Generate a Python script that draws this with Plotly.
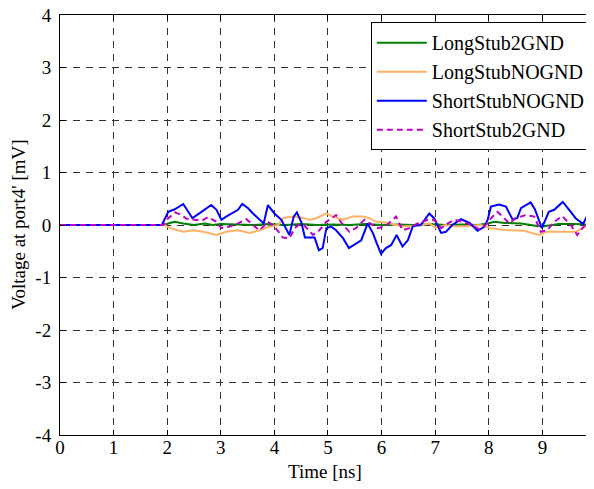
import plotly.graph_objects as go

# ---- data ----
t_long2gnd = [0, 1.95, 2.02, 2.14, 2.3, 2.5, 2.7, 2.85, 3.0, 3.3, 3.6, 3.9, 4.2, 4.5, 4.8, 5.1, 5.4, 5.7, 6.0, 6.3, 6.6, 6.9, 7.2, 7.5, 7.8, 7.98, 8.1, 8.3, 8.6, 8.9, 9.0, 9.3, 9.6, 9.96]
v_long2gnd = [0, 0, 0.03, 0.06, 0.03, 0.0, 0.03, 0.0, 0.02, 0.01, 0.0, 0.02, 0.0, 0.02, 0.0, 0.01, 0.0, 0.02, 0.0, 0.01, 0.0, 0.02, 0.0, 0.01, 0.0, 0.03, 0.06, 0.04, 0.03, -0.02, -0.03, 0.02, 0.02, 0.0]

t_longno = [0, 1.95, 2.05, 2.3, 2.48, 2.67, 2.92, 3.1, 3.32, 3.54, 3.72, 3.91, 4.07, 4.16, 4.34, 4.5, 4.66, 4.78, 4.97, 5.09, 5.28, 5.46, 5.65, 5.77, 5.9, 6.08, 6.27, 6.39, 6.58, 6.76, 6.89, 7.01, 7.2, 7.4, 7.6, 7.85, 8.04, 8.35, 8.66, 8.94, 9.09, 9.37, 9.62, 9.81, 9.96]
v_longno = [0, 0, -0.06, -0.13, -0.1, -0.13, -0.19, -0.13, -0.1, -0.15, -0.1, -0.03, 0, 0.13, 0.16, 0.14, 0.1, 0.13, 0.22, 0.16, 0.1, 0.16, 0.16, 0.13, 0.06, 0.05, 0, -0.03, -0.02, 0, 0.03, -0.05, 0.0, -0.03, -0.02, 0.0, -0.06, -0.1, -0.11, -0.19, -0.13, -0.13, -0.13, -0.03, -0.03]

t_shortno = [0, 1.9, 2.02, 2.14, 2.3, 2.37, 2.47, 2.64, 2.82, 2.92, 3.01, 3.1, 3.2, 3.32, 3.4, 3.51, 3.6, 3.69, 3.8, 3.88, 4.0, 4.13, 4.28, 4.36, 4.42, 4.5, 4.57, 4.66, 4.75, 4.83, 4.9, 4.97, 5.06, 5.15, 5.28, 5.39, 5.49, 5.62, 5.74, 5.84, 5.91, 5.99, 6.08, 6.18, 6.28, 6.39, 6.49, 6.58, 6.64, 6.73, 6.89, 6.98, 7.11, 7.2, 7.32, 7.48, 7.64, 7.79, 7.91, 7.98, 8.04, 8.19, 8.32, 8.44, 8.53, 8.6, 8.78, 8.86, 8.99, 9.12, 9.22, 9.38, 9.5, 9.62, 9.76, 9.84, 9.9, 9.96]
v_shortno = [0, 0, 0.25, 0.3, 0.4, 0.29, 0.13, 0.25, 0.38, 0.29, 0.1, 0.16, 0.22, 0.29, 0.4, 0.32, 0.22, 0.13, 0.03, 0.38, 0.22, 0.1, -0.19, 0.16, 0.24, 0.06, -0.24, -0.24, -0.24, -0.48, -0.44, -0.06, -0.03, -0.1, -0.25, -0.44, -0.38, -0.29, 0.03, -0.16, -0.35, -0.55, -0.44, -0.38, -0.19, -0.41, -0.29, -0.03, -0.01, 0.0, 0.22, 0.13, -0.15, -0.13, 0.0, 0.11, 0.04, -0.11, -0.04, 0.1, 0.35, 0.39, 0.35, 0.11, 0.13, 0.32, 0.43, 0.3, -0.06, 0.25, 0.29, 0.44, 0.29, 0.13, 0.02, 0.19, 0.48, 0.41]

t_short2gnd = [0, 1.93, 2.02, 2.15, 2.27, 2.36, 2.51, 2.64, 2.76, 2.92, 3.01, 3.17, 3.32, 3.48, 3.6, 3.72, 3.88, 4.0, 4.16, 4.28, 4.38, 4.45, 4.55, 4.72, 4.84, 4.97, 5.15, 5.28, 5.4, 5.52, 5.68, 5.8, 5.93, 6.08, 6.27, 6.39, 6.52, 6.67, 6.86, 6.98, 7.11, 7.22, 7.36, 7.51, 7.67, 7.82, 7.94, 8.07, 8.16, 8.26, 8.38, 8.5, 8.69, 8.85, 8.97, 9.09, 9.22, 9.37, 9.53, 9.65, 9.78, 9.87, 9.96]
v_short2gnd = [0, 0, 0.13, 0.24, 0.19, 0.12, 0.1, 0.08, 0.15, 0.06, -0.06, -0.03, 0.03, 0.11, 0, -0.1, 0.06, -0.03, -0.24, -0.25, -0.06, 0.0, 0.0, -0.19, -0.1, 0.06, 0.19, 0, -0.13, -0.06, 0.1, 0.03, -0.06, -0.02, 0.16, -0.1, -0.06, 0.03, 0.1, 0.1, -0.06, 0.02, 0.1, 0.06, 0, -0.08, 0, 0.16, 0.25, 0.16, 0.03, 0.13, 0.19, 0.16, -0.13, -0.1, 0.06, 0.17, 0, -0.19, -0.03, 0.1, 0.1]

names = ["LongStub2GND", "LongStubNOGND", "ShortStubNOGND", "ShortStub2GND"]
x_ticks = [0, 1, 2, 3, 4, 5, 6, 7, 8, 9]
y_ticks = [-4, -3, -2, -1, 0, 1, 2, 3, 4]
x_title = "Time [ns]"
y_title = "Voltage at port4' [mV]"

FONT = "Times New Roman, Liberation Serif, serif"

fig = go.Figure()
fig.add_trace(go.Scatter(x=t_long2gnd, y=v_long2gnd, mode="lines", name=names[0],
                         line=dict(color="#008000", width=2)))
fig.add_trace(go.Scatter(x=t_longno, y=v_longno, mode="lines", name=names[1],
                         line=dict(color="#FFB266", width=2)))
fig.add_trace(go.Scatter(x=t_shortno, y=v_shortno, mode="lines", name=names[2],
                         line=dict(color="#0000FF", width=2)))
fig.add_trace(go.Scatter(x=t_short2gnd, y=v_short2gnd, mode="lines", name=names[3],
                         line=dict(color="#BF00BF", width=2, dash="6px,4px")))

axis_common = dict(
    showline=True, linecolor="black", linewidth=1, mirror="allticks",
    ticks="inside", ticklen=5, tickcolor="black",
    showgrid=True, gridcolor="#333333", gridwidth=1, griddash="7px,6px",
    zeroline=False, tickfont=dict(family=FONT, size=19, color="black"),
    automargin=False, ticklabeloverflow="allow",
)

fig.update_xaxes(range=[0, 9.963], tickvals=x_ticks, ticktext=[str(v) for v in x_ticks],
                 ticklabelstandoff=-5, **axis_common)
fig.update_yaxes(range=[-4, 4], tickvals=y_ticks, ticktext=[str(v) for v in y_ticks],
                 ticklabelstandoff=4, **axis_common)

# axis titles as annotations (page has an 8px body margin)
fig.add_annotation(text=x_title, xref="paper", yref="paper", x=0.496, y=-0.088,
                   xanchor="center", yanchor="middle", showarrow=False,
                   font=dict(family=FONT, size=19, color="black"))
fig.add_annotation(text=y_title, xref="paper", yref="paper", x=-0.079, y=0.5,
                   xanchor="center", yanchor="middle", textangle=-90, showarrow=False,
                   font=dict(family=FONT, size=19, color="black"))

fig.update_layout(
    width=586, height=481,
    margin=dict(l=52, r=0, t=7, b=54, autoexpand=False),
    paper_bgcolor="white", plot_bgcolor="white",
    font=dict(family=FONT, size=19, color="black"),
    legend=dict(x=0.994, y=0.983, xanchor="right", yanchor="top",
                bgcolor="white", bordercolor="black", borderwidth=1,
                font=dict(family=FONT, size=20, color="black"),
                itemwidth=50, tracegroupgap=0),
    showlegend=True,
)

fig.write_html("out.html")
